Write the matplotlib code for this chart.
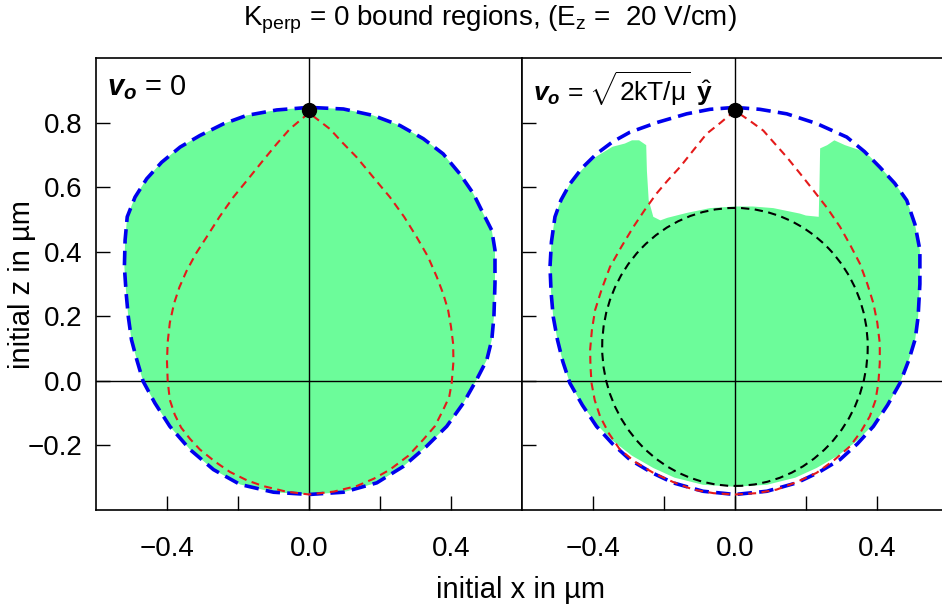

# =============================================================================
# bound_regions.py
# Description: Draw the K_perp = 0 bound regions in the (x, z) plane for two
# initial velocities. The green area is the bound set, the blue dashed line is
# the outer boundary, red dashed lines are the separatrix curves and the black
# dashed ellipse marks the inner region for the moving case.
# =============================================================================

# =============================================================================
# Import Statements
# =============================================================================
import matplotlib
matplotlib.use("Agg")
import matplotlib.pyplot as plt
from matplotlib.patches import Ellipse, Polygon

plt.rcParams['font.family'] = ['Liberation Sans', 'DejaVu Sans']
plt.rcParams['mathtext.fontset'] = 'custom'
plt.rcParams['mathtext.rm'] = 'Liberation Sans'
plt.rcParams['mathtext.it'] = 'Liberation Sans:italic'
plt.rcParams['mathtext.bf'] = 'Liberation Sans:bold'
plt.rcParams['mathtext.bfit'] = 'Liberation Sans:italic:bold'

# =============================================================================
# Data (positions in um)
# =============================================================================
# outer boundary, v_o = 0
outer0_x = [0.0, -0.091, -0.176, -0.241, -0.307, -0.363, -0.415, -0.457, -0.490,
            -0.512, -0.518, -0.520, -0.515, -0.509, -0.500, -0.485, -0.467,
            -0.434, -0.392, -0.335, -0.269, -0.194, -0.100, 0.0, 0.097, 0.191,
            0.266, 0.331, 0.388, 0.435, 0.472, 0.501, 0.515, 0.521, 0.524,
            0.524, 0.515, 0.491, 0.463, 0.425, 0.378, 0.322, 0.256, 0.181,
            0.097, 0.0]
outer0_z = [0.847, 0.839, 0.822, 0.796, 0.760, 0.724, 0.677, 0.626, 0.569,
            0.508, 0.436, 0.353, 0.271, 0.199, 0.127, 0.065, -0.002, -0.069,
            -0.141, -0.213, -0.275, -0.321, -0.345, -0.352, -0.345, -0.316,
            -0.265, -0.203, -0.141, -0.069, 0.003, 0.065, 0.127, 0.199, 0.302,
            0.405, 0.466, 0.518, 0.580, 0.641, 0.703, 0.750, 0.791, 0.822,
            0.842, 0.847]

# separatrix, v_o = 0
sep0_x = [0.0, -0.054, -0.09, -0.129, -0.17, -0.213, -0.252, -0.288, -0.318,
          -0.345, -0.365, -0.38, -0.392, -0.398, -0.400, -0.398, -0.392, -0.378,
          -0.36, -0.335, -0.307, -0.265, -0.223, -0.175, -0.129, -0.065, 0.0,
          0.07, 0.134, 0.183, 0.228, 0.28, 0.322, 0.355, 0.378, 0.395, 0.402,
          0.407, 0.406, 0.400, 0.392, 0.378, 0.36, 0.335, 0.303, 0.268, 0.228,
          0.18, 0.134, 0.095, 0.059, 0.0]
sep0_z = [0.83, 0.78, 0.735, 0.683, 0.627, 0.569, 0.508, 0.446, 0.395, 0.34,
          0.29, 0.24, 0.18, 0.12, 0.06, 0.0, -0.059, -0.105, -0.145, -0.18,
          -0.213, -0.25, -0.282, -0.308, -0.326, -0.343, -0.352, -0.343, -0.326,
          -0.303, -0.275, -0.232, -0.182, -0.14, -0.09, -0.05, -0.007, 0.06,
          0.116, 0.168, 0.219, 0.27, 0.322, 0.385, 0.446, 0.508, 0.569, 0.632,
          0.693, 0.737, 0.78, 0.83]

# outer boundary, v_o = sqrt(2kT/mu) y
outer1_x = [0.0, -0.07, -0.136, -0.22, -0.296, -0.345, -0.39, -0.43, -0.465,
            -0.49, -0.507, -0.517, -0.521, -0.518, -0.512, -0.5, -0.485, -0.465,
            -0.43, -0.39, -0.345, -0.296, -0.235, -0.174, -0.09, 0.0, 0.09,
            0.174, 0.235, 0.296, 0.345, 0.39, 0.43, 0.465, 0.49, 0.508, 0.516,
            0.521, 0.521, 0.507, 0.484, 0.45, 0.408, 0.365, 0.315, 0.23, 0.146,
            0.07, 0.0]
outer1_z = [0.847, 0.841, 0.827, 0.80, 0.77, 0.74, 0.703, 0.66, 0.61, 0.56,
            0.508, 0.43, 0.353, 0.275, 0.199, 0.127, 0.06, -0.007, -0.075,
            -0.141, -0.195, -0.244, -0.284, -0.316, -0.342, -0.352, -0.342,
            -0.316, -0.284, -0.244, -0.195, -0.141, -0.075, -0.007, 0.065, 0.13,
            0.199, 0.3, 0.405, 0.485, 0.559, 0.612, 0.662, 0.71, 0.755, 0.797,
            0.827, 0.841, 0.847]

# separatrix, v_o = sqrt(2kT/mu) y
sep1_x = [0.0, -0.04, -0.08, -0.118, -0.155, -0.19, -0.221, -0.255, -0.286,
          -0.32, -0.352, -0.375, -0.394, -0.403, -0.408, -0.407, -0.404, -0.395,
          -0.38, -0.355, -0.324, -0.28, -0.23, -0.175, -0.117, -0.06, 0.0,
          0.06, 0.117, 0.175, 0.23, 0.28, 0.324, 0.355, 0.38, 0.396, 0.404,
          0.408, 0.408, 0.401, 0.39, 0.373, 0.352, 0.325, 0.296, 0.26, 0.221,
          0.185, 0.146, 0.112, 0.08, 0.04, 0.0]
sep1_z = [0.837, 0.80, 0.765, 0.713, 0.662, 0.62, 0.58, 0.528, 0.477, 0.415,
          0.353, 0.285, 0.219, 0.157, 0.096, 0.045, -0.007, -0.06, -0.11,
          -0.163, -0.213, -0.252, -0.285, -0.313, -0.337, -0.348, -0.352,
          -0.348, -0.337, -0.313, -0.285, -0.245, -0.203, -0.157, -0.11, -0.06,
          -0.007, 0.055, 0.116, 0.18, 0.24, 0.3, 0.363, 0.42, 0.477, 0.535,
          0.59, 0.64, 0.693, 0.735, 0.775, 0.807, 0.837]

# bound set with the notch, v_o = sqrt(2kT/mu) y
bound1_x = [-0.25, -0.27, -0.29, -0.31, -0.345, -0.39, -0.43, -0.465, -0.49,
            -0.507, -0.517, -0.521, -0.518, -0.512, -0.5, -0.485, -0.465, -0.43,
            -0.39, -0.345, -0.29, -0.23, -0.17, -0.09, 0.0, 0.09, 0.17, 0.23,
            0.29, 0.345, 0.39, 0.43, 0.465, 0.49, 0.508, 0.516, 0.521, 0.521,
            0.507, 0.484, 0.45, 0.415, 0.38, 0.35, 0.31, 0.28, 0.26, 0.24,
            0.238, 0.236, 0.2, 0.183, 0.108, 0.05, 0.0, -0.07, -0.136, -0.19,
            -0.21, -0.23, -0.243, -0.248]
bound1_z = [0.73, 0.745, 0.745, 0.735, 0.725, 0.695, 0.655, 0.61, 0.56, 0.508,
            0.43, 0.353, 0.275, 0.199, 0.127, 0.06, -0.007, -0.075, -0.135,
            -0.185, -0.232, -0.27, -0.30, -0.322, -0.328, -0.322, -0.30, -0.27,
            -0.232, -0.185, -0.135, -0.075, -0.007, 0.065, 0.13, 0.199, 0.3,
            0.405, 0.485, 0.559, 0.612, 0.655, 0.695, 0.715, 0.73, 0.745, 0.73,
            0.72, 0.60, 0.508, 0.512, 0.518, 0.535, 0.54, 0.54, 0.535, 0.52,
            0.505, 0.497, 0.508, 0.56, 0.65]

# inner ellipse (centre, full width, full height)
ell_x, ell_z = 0.0, 0.105
ell_w, ell_h = 0.748, 0.861

# turning point marked by the dot
dot_x, dot_z = 0.0, 0.84

x_ticks = [-0.4, -0.2, 0.0, 0.2, 0.4]
x_labels = ['\u22120.4', '', '0.0', '', '0.4']
z_ticks = [-0.2, 0.0, 0.2, 0.4, 0.6, 0.8]
z_labels = ['\u22120.2', '0.0', '0.2', '0.4', '0.6', '0.8']

GREEN = '#6cfc9a'

# =============================================================================
# Functions
# =============================================================================
# setupAxes draws the frame, inward ticks and the x = 0, z = 0 lines.
def setupAxes(ax, showZ):
    ax.set_xlim(-0.6, 0.6)
    ax.set_ylim(-0.4, 1.0)
    ax.set_xticks(x_ticks)
    ax.set_xticklabels(x_labels)
    ax.set_yticks(z_ticks)
    ax.set_yticklabels(z_labels if showZ else [])
    ax.tick_params(direction='in', length=10, width=1, labelsize=20,
                   top=False, right=False)
    ax.tick_params(axis='x', pad=19)
    ax.tick_params(axis='y', pad=10)
    for s in ax.spines.values():
        s.set_linewidth(1.2)
    ax.axhline(0, color='black', lw=1.0, zorder=3)
    ax.axvline(0, color='black', lw=1.0, zorder=3)

# drawPanel fills the bound set and draws the boundary and separatrix curves.
def drawPanel(ax, fillX, fillZ, outX, outZ, sepX, sepZ):
    ax.add_patch(Polygon(list(zip(fillX, fillZ)), closed=True, fc=GREEN,
                         ec='none', zorder=1))
    ax.plot(outX, outZ, color='#0000ee', lw=2.6, ls=(0, (4.0, 2.0)), zorder=4)
    ax.plot(sepX, sepZ, color='#e41a1a', lw=1.5, ls=(0, (3.8, 2.6)), zorder=4)
    ax.plot([dot_x], [dot_z], 'o', color='black', ms=10, zorder=5)

# =============================================================================
# Main Script
# =============================================================================
fig = plt.figure(figsize=(9.42, 6.09), dpi=100)
axL = fig.add_axes([0.1019, 0.1626, 0.4522, 0.7422])
axR = fig.add_axes([0.5541, 0.1626, 0.4522, 0.7422])

setupAxes(axL, True)
setupAxes(axR, False)

drawPanel(axL, outer0_x, outer0_z, outer0_x, outer0_z, sep0_x, sep0_z)
drawPanel(axR, bound1_x, bound1_z, outer1_x, outer1_z, sep1_x, sep1_z)
axR.add_patch(Ellipse((ell_x, ell_z), ell_w, ell_h, fill=False, ec='black',
                      lw=1.5, ls=(0, (4.0, 2.6)), zorder=4))

axL.text(0.025, 0.967, r'$\mathbfit{v}_{\mathbfit{o}}$ = 0', transform=axL.transAxes,
         fontsize=21, va='top', ha='left')
axR.text(0.025, 0.975,
         r'$\mathbfit{v}_{\mathbfit{o}}$ = $\sqrt{2\mathrm{kT/\mu}}$ $\hat{\mathbf{y}}$',
         transform=axR.transAxes, fontsize=19, va='top', ha='left')

fig.text(0.52, 0.968, r'K$_{\mathrm{perp}}$ = 0 bound regions, (E$_{\mathrm{z}}$ =  20 V/cm)',
         fontsize=20, ha='center', va='center')
fig.text(0.553, 0.031, 'initial x in \u00b5m', fontsize=21, ha='center', va='center')
fig.text(0.0234, 0.532, 'initial z in \u00b5m', fontsize=21, ha='center', va='center',
         rotation=90)

fig.savefig('out.png', dpi=100)
